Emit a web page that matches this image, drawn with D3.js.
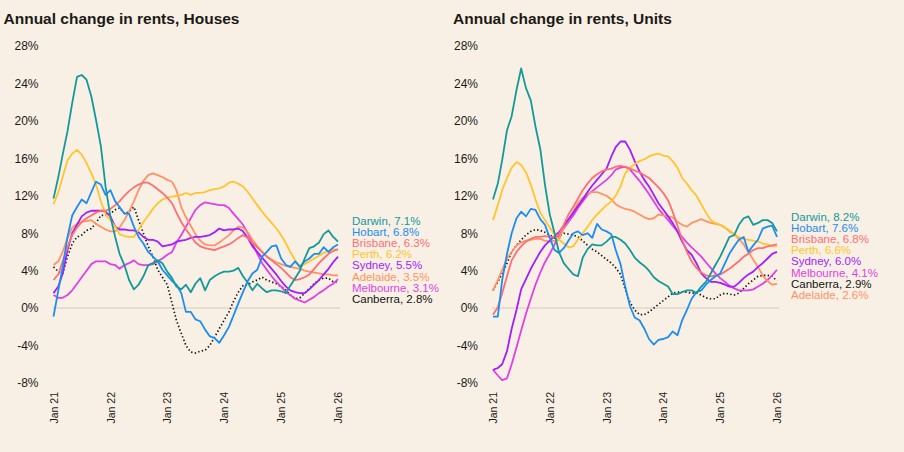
<!DOCTYPE html>
<html>
<head>
<meta charset="utf-8">
<script src="https://cdn.jsdelivr.net/npm/d3@7"></script>
<style>
  body { margin: 0; background: #F8F0E4; }
  svg { display: block; font-family: "Liberation Sans", Arial, sans-serif; }
</style>
</head>
<body>
<svg id="chart" width="904" height="452"></svg>
<script>
// *** data (monthly, Jan 21 .. Jan 26) ***
var cities = ["Darwin", "Hobart", "Brisbane", "Perth", "Sydney", "Adelaide", "Melbourne", "Canberra"];
var yTicks = [-8, -4, 0, 4, 8, 12, 16, 20, 24, 28];
var xTickYears = ["Jan 21", "Jan 22", "Jan 23", "Jan 24", "Jan 25", "Jan 26"];

// houses
var darwinH = [11.7,14.0,16.4,18.9,21.9,24.7,24.9,24.4,22.6,20.1,17.3,13.0,9.8,7.6,5.8,4.6,3.0,2.0,2.5,3.4,4.6,4.8,5.1,4.8,3.9,3.2,2.3,2.0,2.5,1.7,2.6,3.2,1.9,3.0,3.4,3.7,3.9,3.9,4.0,4.3,3.4,2.7,1.9,2.6,2.1,1.7,1.9,1.9,1.8,1.6,2.4,3.2,4.0,5.3,6.4,6.6,7.0,7.9,8.3,7.6,7.1];
var hobartH = [-0.9,1.9,4.4,7.6,9.9,10.8,11.6,11.2,12.4,13.5,13.2,12.1,12.6,11.4,10.8,10.1,10.1,8.7,7.6,6.9,6.0,5.5,5.0,4.1,3.5,2.9,2.5,1.6,-0.4,-0.4,-1.2,-1.4,-2.3,-3.0,-3.2,-3.7,-2.9,-2.0,-0.8,0.5,1.7,2.9,3.7,4.1,5.5,6.0,6.6,6.7,5.3,4.6,4.4,5.0,4.4,5.0,5.3,5.8,5.8,6.5,6.0,6.5,6.8];
var brisbaneH = [3.0,3.6,5.0,6.5,7.8,8.6,9.2,9.6,9.9,10.2,10.4,10.4,10.6,11.0,11.4,12.0,12.5,12.9,13.2,13.4,13.4,13.1,12.7,12.3,11.8,11.2,10.2,9.2,8.4,7.7,7.0,6.6,6.4,6.3,6.2,6.4,6.6,6.8,7.1,7.5,7.8,7.5,7.0,6.5,6.0,5.5,5.1,4.7,4.3,3.8,3.3,3.0,3.1,3.3,3.6,4.2,4.8,5.3,5.8,6.1,6.3];
var perthH = [11.1,12.4,14.0,15.8,16.5,16.9,16.4,15.5,14.4,13.2,11.4,10.0,9.4,8.7,7.9,7.7,7.6,7.6,8.4,9.2,9.9,10.6,11.2,11.6,11.8,11.9,12.0,12.1,12.3,12.1,12.3,12.3,12.4,12.6,12.7,12.8,13.0,13.4,13.5,13.3,13.0,12.4,11.7,11.0,10.3,9.7,9.1,8.5,7.8,6.9,6.0,5.1,4.5,4.7,5.0,5.3,5.6,5.9,6.1,6.3,6.2];
var sydneyH = [1.6,2.3,3.7,6.2,8.0,8.9,9.8,10.2,10.4,10.4,10.4,10.3,9.8,8.7,8.4,8.4,8.3,8.3,8.1,7.6,7.3,7.3,7.1,6.6,6.7,6.8,7.1,7.2,7.3,7.5,7.6,7.6,7.7,7.8,8.1,8.5,8.3,8.4,8.4,8.5,8.2,7.5,6.6,6.0,5.4,4.8,4.2,3.6,2.9,2.3,1.9,1.7,1.6,1.6,2.0,2.5,3.0,3.6,4.2,4.9,5.5];
var adelaideH = [4.6,5.0,6.0,7.5,8.6,9.0,9.2,9.3,9.4,9.0,8.7,8.4,8.2,8.2,8.6,9.4,10.3,11.4,12.6,13.6,14.2,14.4,14.2,14.0,13.7,13.5,12.6,10.8,9.7,8.8,7.9,7.2,6.8,6.7,6.7,7.0,7.4,7.8,8.3,8.7,8.6,8.1,7.3,6.6,6.0,5.5,5.2,4.9,4.7,4.5,4.4,4.3,4.2,4.0,3.9,3.8,3.7,3.6,3.6,3.5,3.5];
var melbourneH = [1.4,1.1,1.1,1.4,1.9,2.6,3.3,4.0,4.7,5.0,5.0,5.0,4.7,4.6,4.2,4.6,4.8,5.1,4.7,4.6,4.6,4.7,5.0,5.3,5.7,6.0,7.0,7.8,8.7,9.6,10.5,11.0,11.3,11.2,11.1,11.0,11.0,10.7,10.1,9.5,8.9,8.0,6.9,5.8,4.8,4.1,3.4,2.8,2.3,1.7,1.4,1.0,0.8,0.6,0.9,1.2,1.6,1.9,2.3,2.6,3.1];
var canberraH = [4.4,3.9,3.7,5.5,6.9,7.6,7.8,8.3,8.5,9.1,9.9,9.9,10.1,10.5,10.7,10.1,10.3,10.8,9.4,8.0,6.6,5.5,4.1,3.3,2.5,0.5,-1.3,-2.7,-4.0,-4.7,-4.8,-4.6,-4.5,-4.0,-3.1,-2.2,-1.3,-0.4,0.7,1.7,2.4,2.5,2.8,3.0,3.3,3.0,2.8,2.6,2.3,1.9,1.4,1.0,1.1,1.6,2.1,2.6,3.0,3.2,3.2,2.8,2.8];
var housesLabel = [7.1, 6.8, 6.3, 6.2, 5.5, 3.5, 3.1, 2.8];

// units
var darwinU = [11.6,13.3,15.8,19.0,20.5,23.3,25.6,23.5,22.2,19.4,17.0,13.2,10.0,8.0,6.0,4.8,4.2,3.6,3.4,5.4,6.3,6.8,6.7,6.7,7.1,7.6,7.6,7.3,6.9,6.2,5.4,4.9,4.5,4.0,3.3,2.9,2.6,2.3,1.5,1.5,1.7,1.9,1.9,1.6,2.3,2.8,3.7,4.6,5.5,6.6,7.6,7.8,8.9,9.6,9.8,8.9,9.1,9.4,9.4,9.1,8.2];
var hobartU = [-0.9,-0.9,3.0,5.8,8.0,9.6,10.3,9.8,10.6,10.5,9.5,8.9,7.5,6.2,5.9,6.4,7.2,8.0,8.2,7.8,8.0,7.5,9.0,8.4,8.2,7.9,6.2,4.7,2.3,0.2,-1.0,-1.3,-2.2,-3.3,-3.9,-3.4,-3.3,-3.1,-2.5,-2.9,-1.3,-0.2,1.0,1.7,1.9,2.5,3.0,3.4,3.7,4.8,5.8,6.6,7.3,7.6,6.0,6.7,7.3,8.5,8.7,8.8,7.6];
var brisbaneU = [-0.7,0.1,1.6,3.4,5.1,6.0,6.6,7.1,7.4,7.6,7.6,7.7,7.6,7.6,7.9,8.9,10.0,10.8,11.7,12.6,13.3,13.9,14.3,14.6,14.8,14.9,15.1,15.2,15.1,14.9,14.7,14.5,14.2,13.9,13.4,12.9,12.3,11.5,10.3,8.8,7.3,6.0,5.0,4.3,3.8,3.5,3.4,3.5,3.6,3.9,4.2,4.6,5.0,5.5,5.8,6.2,6.4,6.4,6.6,6.7,6.8];
var perthU = [9.4,11.0,12.6,13.9,15.0,15.6,15.3,14.5,13.2,11.6,10.2,9.4,8.6,7.9,7.3,6.9,6.5,6.6,7.3,8.0,8.7,9.4,10.0,10.5,11.0,11.4,12.0,13.0,14.4,15.0,15.4,15.7,15.9,16.2,16.4,16.5,16.3,16.2,15.7,15.0,13.9,13.3,12.6,12.0,11.1,10.2,9.4,9.1,8.9,8.6,8.3,7.9,7.6,7.4,7.3,7.2,7.1,6.9,6.8,6.6,6.6];
var sydneyU = [-6.6,-6.4,-6.0,-4.6,-2.2,-0.2,2.0,3.1,4.2,5.1,6.0,6.7,7.2,7.7,8.1,8.8,9.5,10.2,10.9,11.6,12.4,13.1,13.7,14.3,14.9,16.2,17.2,17.8,17.8,16.9,15.7,14.6,13.7,13.0,12.1,11.2,10.5,9.8,9.1,8.2,7.1,6.2,5.7,4.8,3.7,3.2,2.8,2.8,2.7,2.5,2.3,2.3,2.7,3.2,3.6,3.9,4.4,4.8,5.3,5.8,6.0];
var adelaideU = [1.9,3.0,4.1,5.3,6.0,6.7,7.0,7.2,7.3,7.4,7.4,7.2,7.1,7.2,7.3,8.6,9.4,10.3,11.2,11.8,12.2,12.4,12.4,12.2,12.0,11.6,11.1,10.8,10.6,10.5,10.3,10.0,9.7,9.5,9.6,10.0,9.9,9.8,9.7,9.2,8.9,8.7,9.1,9.3,9.5,9.3,9.1,9.0,8.9,8.6,8.2,7.9,7.4,6.8,6.0,5.2,4.4,3.5,2.9,2.5,2.6];
var melbourneU = [-6.6,-7.2,-7.7,-7.5,-6.0,-4.2,-2.4,-0.6,1.0,2.5,3.8,4.9,5.8,6.8,7.8,8.5,9.2,9.9,10.7,11.4,12.1,12.5,12.9,13.3,13.7,14.2,14.8,15.0,15.1,14.8,14.2,13.6,12.9,12.2,11.4,10.6,10.0,9.4,8.8,8.2,7.6,7.0,6.5,6.0,5.5,4.9,4.3,3.7,3.2,2.8,2.4,2.1,1.9,1.9,1.9,2.0,2.3,2.6,3.0,3.5,4.1];
var canberraU = [1.9,2.8,3.7,4.8,6.0,6.7,7.3,7.8,8.2,8.4,8.3,8.1,7.8,7.5,7.7,8.0,7.9,7.8,7.6,7.2,6.7,6.3,6.0,5.6,5.2,4.8,4.3,3.6,2.0,0.6,-0.2,-0.7,-0.7,-0.4,0.0,0.4,0.8,1.2,1.6,1.7,1.7,1.7,1.6,1.6,1.4,1.1,1.0,1.0,1.4,1.6,1.5,1.4,1.6,2.1,2.6,3.0,3.4,3.5,3.5,3.4,2.9];
var unitsLabel = [8.2, 7.6, 6.8, 6.6, 6.0, 2.6, 4.1, 2.9];

var colours = {
    Darwin: "#13999A", Hobart: "#1C8DF2", Brisbane: "#FF6E73", Perth: "#FFC52E",
    Sydney: "#A21DFF", Adelaide: "#FF9366", Melbourne: "#E03FE6", Canberra: "#141414"
};

var months = d3.timeMonth.range(new Date(2021, 0, 1), new Date(2026, 1, 1));
var years = d3.timeYear.range(new Date(2021, 0, 1), new Date(2026, 1, 1));

var svg = d3.select("#chart");
svg.append("rect").attr("width", 904).attr("height", 452).attr("fill", "#F8F0E4");

// push labels apart so they do not overlap, keeps the centre of each cluster
function spread(items, gap) {
    items.sort(function(a, b) { return a.y - b.y; });
    for (var k = 0; k < 400; k++) {
        for (var i = 1; i < items.length; i++) {
            var o = items[i - 1].y + gap - items[i].y;
            if (o > 0) { items[i - 1].y -= o / 2; items[i].y += o / 2; }
        }
    }
    return items;
}

function panel(opt) {
    var g = svg.append("g");
    var x = d3.scaleTime().domain([months[0], months[months.length - 1]]).range(opt.xRange);
    var y = d3.scaleLinear().domain([-8, 28]).range([383, 46]);

    g.append("text")
        .attr("x", opt.titleX).attr("y", 24)
        .attr("font-size", 15.5).attr("font-weight", "bold").attr("fill", "#1c1a17")
        .text(opt.title);

    // zero line
    g.append("line")
        .attr("x1", opt.xRange[0] - 1).attr("x2", opt.xRange[1] + 2)
        .attr("y1", y(0)).attr("y2", y(0))
        .attr("stroke", "#E2D9CB").attr("stroke-width", 1.5);

    var ya = g.append("g")
        .attr("transform", "translate(" + opt.yLabelX + ",0)")
        .call(d3.axisLeft(y).tickValues(yTicks).tickSize(0).tickPadding(0)
            .tickFormat(function(d) { return d + "%"; }));
    ya.select(".domain").remove();
    ya.selectAll("text").attr("font-size", 12).attr("fill", "#1c1a17")
        .attr("font-family", "Liberation Sans, Arial, sans-serif");

    var xa = g.append("g")
        .attr("transform", "translate(0,392)")
        .call(d3.axisBottom(x).tickValues(years).tickSize(0)
            .tickFormat(function(d, i) { return xTickYears[i]; }));
    xa.select(".domain").remove();
    xa.selectAll("text")
        .attr("transform", "rotate(-90)")
        .attr("text-anchor", "end")
        .attr("x", 0).attr("y", 0).attr("dy", "0.35em")
        .attr("font-size", 10.5).attr("fill", "#1c1a17")
        .attr("font-family", "Liberation Sans, Arial, sans-serif");

    var line = d3.line()
        .x(function(d, i) { return x(months[i]); })
        .y(function(d) { return y(d); });

    var order = ["Canberra", "Melbourne", "Adelaide", "Sydney", "Perth", "Brisbane", "Hobart", "Darwin"];
    order.forEach(function(c) {
        var p = g.append("path")
            .attr("d", line(opt.series[c]))
            .attr("fill", "none")
            .attr("stroke", colours[c])
            .attr("stroke-width", 1.8)
            .attr("stroke-linejoin", "round");
        if (c == "Canberra") {
            p.attr("stroke-dasharray", "1.4,2.3").attr("stroke-width", 1.7);
        }
    });

    // end labels
    var items = cities.map(function(c, i) {
        return { name: c, value: opt.labels[i], y: y(opt.labels[i]) };
    });
    spread(items, 11.2);
    g.selectAll(".lab").data(items).enter().append("text")
        .attr("x", opt.xRange[1] + 14)
        .attr("y", function(d) { return d.y; })
        .attr("dy", "0.35em")
        .attr("font-size", 11.5)
        .attr("fill", function(d) { return colours[d.name]; })
        .text(function(d) { return d.name + ", " + d.value.toFixed(1) + "%"; });
}

panel({
    title: "Annual change in rents, Houses", titleX: 3.5,
    xRange: [53.5, 338], yLabelX: 38.5,
    series: { Darwin: darwinH, Hobart: hobartH, Brisbane: brisbaneH, Perth: perthH,
              Sydney: sydneyH, Adelaide: adelaideH, Melbourne: melbourneH, Canberra: canberraH },
    labels: housesLabel
});

panel({
    title: "Annual change in rents, Units", titleX: 453,
    xRange: [493, 777], yLabelX: 478,
    series: { Darwin: darwinU, Hobart: hobartU, Brisbane: brisbaneU, Perth: perthU,
              Sydney: sydneyU, Adelaide: adelaideU, Melbourne: melbourneU, Canberra: canberraU },
    labels: unitsLabel
});
</script>
</body>
</html>
